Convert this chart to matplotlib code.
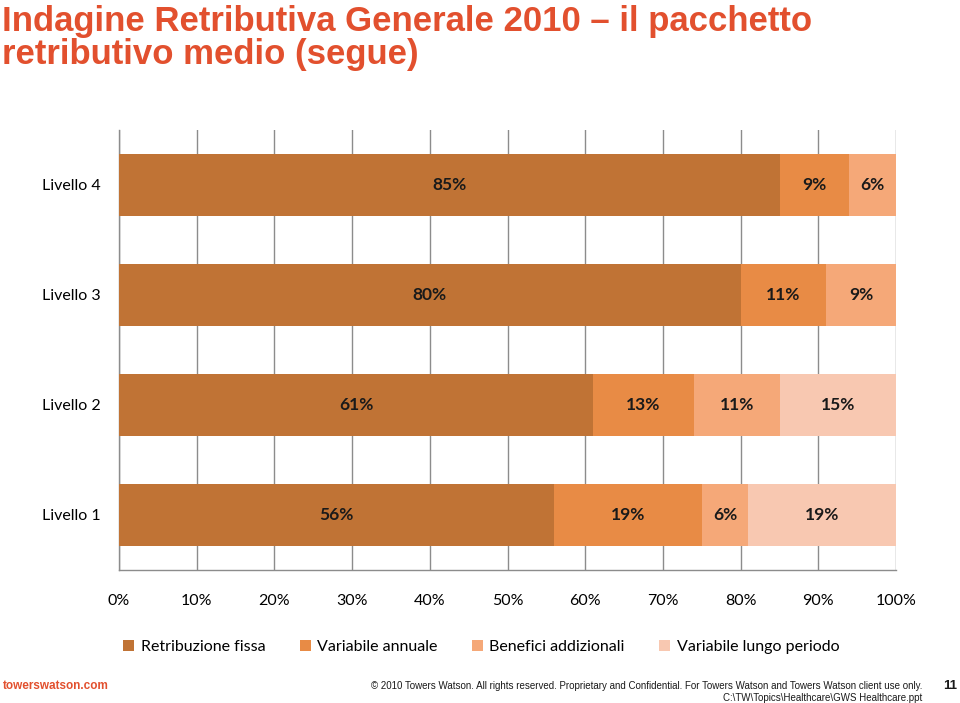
import matplotlib
matplotlib.use("Agg")
import matplotlib.pyplot as plt
import numpy as np

matplotlib.rcParams.update({
    'font.family': ['Lato', 'DejaVu Sans'],
    'font.size': 11.5,
})

# Data (percent of total pay package)
levels = ["Livello 4", "Livello 3", "Livello 2", "Livello 1"]
series_names = ["Retribuzione fissa", "Variabile annuale",
                "Benefici addizionali", "Variabile lungo periodo"]
retribuzione_fissa = [85, 80, 61, 56]
variabile_annuale = [9, 11, 13, 19]
benefici_addizionali = [6, 9, 11, 6]
variabile_lungo = [0, 0, 15, 19]
xtick_labels = ["0%", "10%", "20%", "30%", "40%", "50%",
                "60%", "70%", "80%", "90%", "100%"]

colors = ["#C07335", "#E88B45", "#F5A878", "#F8C8B1"]
series = [retribuzione_fissa, variabile_annuale, benefici_addizionali, variabile_lungo]

fig = plt.figure(figsize=(9.6, 7.03), dpi=100)
ax = fig.add_axes([0.124, 0.1892, 0.8094, 0.6259])

y = np.arange(len(levels))
left = np.zeros(len(levels))
for name, vals, col in zip(series_names, series, colors):
    vals = np.array(vals, dtype=float)
    ax.barh(y, vals, left=left, height=0.565, color=col, label=name, zorder=3)
    for yi, (l, v) in enumerate(zip(left, vals)):
        if v > 0:
            ax.text(l + v / 2, yi, f"{int(v)}%", ha='center', va='center',
                    fontsize=12.5, fontweight='bold', color='#1a1a1a', zorder=4)
    left += vals

ax.set_xlim(0, 100)
ax.set_ylim(len(levels) - 0.5, -0.5)
ax.set_xticks(np.arange(0, 101, 10))
ax.set_xticklabels(xtick_labels)
ax.set_yticks(y)
ax.set_yticklabels(levels)
ax.tick_params(axis='x', length=0, pad=17)
ax.tick_params(axis='y', length=0, pad=13)
ax.grid(True, axis='x', color='#8c8c8c', linewidth=1.0, zorder=0)
for s in ['top', 'right']:
    ax.spines[s].set_visible(False)
for s in ['left', 'bottom']:
    ax.spines[s].set_color('#8c8c8c')
    ax.spines[s].set_linewidth(1.0)

ax.legend(loc='center', bbox_to_anchor=(0.466, -0.175), ncol=4, frameon=False,
          handlelength=0.7, handleheight=0.7, handletextpad=0.4,
          columnspacing=2.15, fontsize=11.5)

# Title
fig.text(0.002, 1 - 5 / 703, "Indagine Retributiva Generale 2010 \u2013 il pacchetto\nretributivo medio (segue)",
         ha='left', va='top', fontsize=25, color='#E2502E', fontweight='bold',
         family=['Liberation Sans', 'DejaVu Sans'], linespacing=1.0)

# Footer
fig.text(0.003, 1 - 689 / 703, "towerswatson.com", ha='left', va='baseline',
         fontsize=8.5, fontweight='bold', color='#E2502E',
         family=['Liberation Sans', 'DejaVu Sans'])
fig.text(922 / 960, 1 - 689 / 703,
         "\u00a9 2010 Towers Watson. All rights reserved. Proprietary and Confidential. "
         "For Towers Watson and Towers Watson client use only.",
         ha='right', va='baseline', fontsize=7, color='#1a1a1a',
         family=['Liberation Sans Narrow', 'Liberation Sans'])
fig.text(922 / 960, 1 - 701 / 703, "C:\\TW\\Topics\\Healthcare\\GWS Healthcare.ppt",
         ha='right', va='baseline', fontsize=7, color='#1a1a1a',
         family=['Liberation Sans Narrow', 'Liberation Sans'])
fig.text(957 / 960, 1 - 689 / 703, "11", ha='right', va='baseline',
         fontsize=9.5, fontweight='bold', color='#1a1a1a',
         family=['Liberation Sans', 'DejaVu Sans'])

fig.savefig("out.png", dpi=100)
